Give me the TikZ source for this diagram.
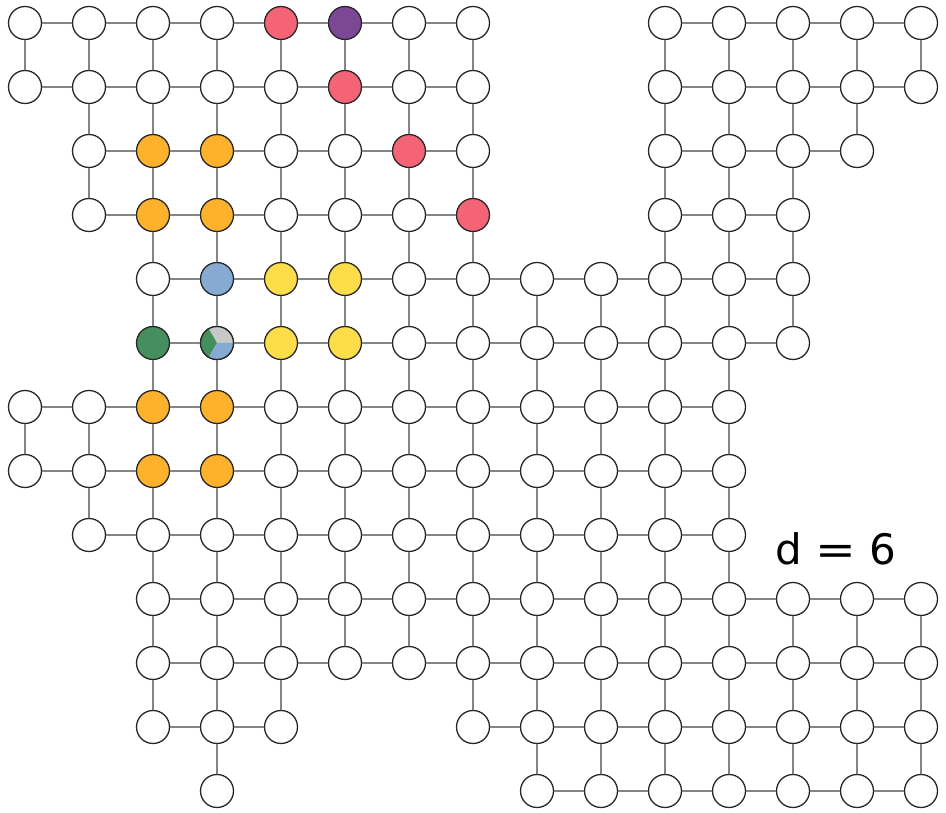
\documentclass[tikz,border=0pt]{standalone}
\usepackage{fontspec}
\newfontfamily\labfont{DejaVu Sans}
\definecolor{cpink}{HTML}{F56476}
\definecolor{cpurple}{HTML}{7C4794}
\definecolor{corange}{HTML}{FDB12D}
\definecolor{cblue}{HTML}{86AAD1}
\definecolor{cyellow}{HTML}{FEDD4B}
\definecolor{cgreen}{HTML}{458F5F}
\definecolor{cgray}{HTML}{C8C8C8}
\definecolor{edgecol}{HTML}{858585}
\definecolor{rimcol}{HTML}{262626}
\makeatletter
\def\setnc#1#2#3{\expandafter\def\csname nc@#1-#2\endcsname{#3}}
\makeatother
\setnc{0}{4}{cpink}\setnc{1}{5}{cpink}\setnc{2}{6}{cpink}\setnc{3}{7}{cpink}
\setnc{0}{5}{cpurple}
\setnc{2}{2}{corange}\setnc{2}{3}{corange}\setnc{3}{2}{corange}\setnc{3}{3}{corange}
\setnc{6}{2}{corange}\setnc{6}{3}{corange}\setnc{7}{2}{corange}\setnc{7}{3}{corange}
\setnc{4}{3}{cblue}
\setnc{4}{4}{cyellow}\setnc{4}{5}{cyellow}\setnc{5}{4}{cyellow}\setnc{5}{5}{cyellow}
\setnc{5}{2}{cgreen}
\setnc{5}{3}{white}
\begin{document}
\begin{tikzpicture}[x=1pt,y=-1pt,
  vtx/.style={circle,draw=rimcol,line width=1.3pt,minimum size=33pt,inner sep=0pt},
  link/.style={draw=edgecol,line width=1.5pt},
  pie/.style={path picture={
    \fill[cgray] (path picture bounding box.center) -- ++(0:20pt) arc[start angle=0,end angle=120,radius=20pt] -- cycle;
    \fill[cgreen] (path picture bounding box.center) -- ++(120:20pt) arc[start angle=120,end angle=240,radius=20pt] -- cycle;
    \fill[cblue] (path picture bounding box.center) -- ++(240:20pt) arc[start angle=240,end angle=360,radius=20pt] -- cycle;
  }}]
\useasboundingbox (0,0) rectangle (946,813);
\foreach \r/\cols in {0/{0,1,2,3,4,5,6,7,10,11,12,13,14},
                      1/{0,1,2,3,4,5,6,7,10,11,12,13,14},
                      2/{1,2,3,4,5,6,7,10,11,12,13},
                      3/{1,2,3,4,5,6,7,10,11,12},
                      4/{2,3,4,5,6,7,8,9,10,11,12},
                      5/{2,3,4,5,6,7,8,9,10,11,12},
                      6/{0,1,2,3,4,5,6,7,8,9,10,11},
                      7/{0,1,2,3,4,5,6,7,8,9,10,11},
                      8/{1,2,3,4,5,6,7,8,9,10,11},
                      9/{2,3,4,5,6,7,8,9,10,11,12,13,14},
                      10/{2,3,4,5,6,7,8,9,10,11,12,13,14},
                      11/{2,3,4,7,8,9,10,11,12,13,14},
                      12/{3,8,9,10,11,12,13,14}}{
  \foreach \c in \cols {
    \edef\fc{\ifcsname nc@\r-\c\endcsname\csname nc@\r-\c\endcsname\else white\fi}
    \node[vtx,fill=\fc] (n\r-\c) at ({25+64*\c},{23+64*\r}) {};
  }
}
\node[vtx,pie] at (n5-3) {};
\foreach \r in {0,...,12}{
  \foreach \c in {0,...,14}{
    \ifcsname pgf@sh@ns@n\r-\c\endcsname
      \pgfmathtruncatemacro\cn{\c+1}
      \pgfmathtruncatemacro\rn{\r+1}
      \ifcsname pgf@sh@ns@n\r-\cn\endcsname
        \draw[link] (n\r-\c) -- (n\r-\cn);
      \fi
      \ifcsname pgf@sh@ns@n\rn-\c\endcsname
        \draw[link] (n\r-\c) -- (n\rn-\c);
      \fi
    \fi
  }
}
\node[anchor=base,inner sep=0pt,font=\labfont\fontsize{42}{48}\selectfont] (dlabel) at (836,564) {d \scalebox{1.16}[1]{=} 6};
\end{tikzpicture}
\end{document}
